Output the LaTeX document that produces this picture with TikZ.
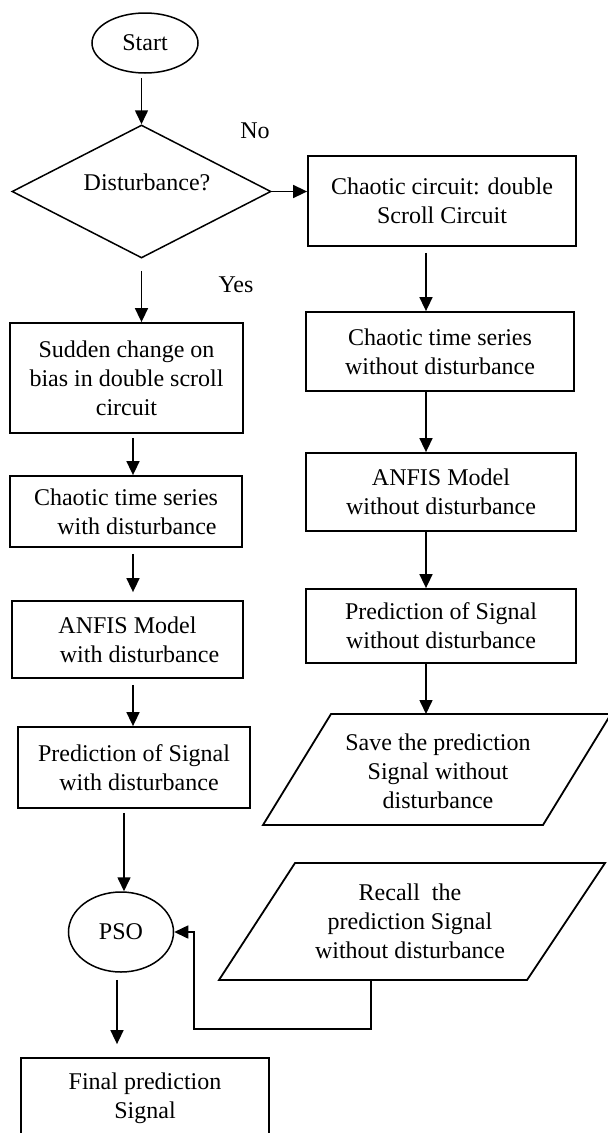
\documentclass[tikz,border=0pt]{standalone}
\usepackage{fontspec}
\setmainfont{Liberation Serif}
\usetikzlibrary{shapes.geometric,arrows.meta}
\begin{document}
\begin{tikzpicture}[x=1pt,y=-1pt,
  every node/.style={font=\fontsize{24}{29}\selectfont},
  box/.style={draw,line width=1.8pt,rectangle,align=center,inner sep=0pt},
  term/.style={draw,line width=1.5pt,ellipse,inner sep=0pt},
  dec/.style={draw,line width=1.5pt,diamond,inner sep=0pt},
  para/.style={line width=1.8pt,line join=miter},
  plain/.style={align=center,inner sep=0pt},
  arr/.style={line width=1.6pt,-{Triangle[width=13pt,length=14pt]}},
  line/.style={line width=1.6pt}]
\useasboundingbox (0,0) rectangle (608,1133);

% column x coordinates for connectors
\coordinate (rx) at (426,0);
\coordinate (lx) at (133,0);
\coordinate (px) at (124,0);
\coordinate (qx) at (117,0);

% nodes
\node[term, minimum width=106pt, minimum height=60pt] (start) at (145,43) {Start};
\node[dec, minimum width=259pt, minimum height=133pt] (dia) at (141.5,191.5) {};
\node[plain] (dtxt) at (147,182) {Disturbance?};
\node[plain] (no) at (255,131) {No};
\node[plain] (yes) at (236,285) {Yes};

\node[box, minimum width=268pt, minimum height=90pt] (b1) at (442,201)
  {Chaotic circuit: double\\Scroll Circuit};
\node[box, minimum width=268pt, minimum height=79pt] (b2) at (440,351.5)
  {Chaotic time series\\without disturbance};
\node[box, minimum width=270pt, minimum height=78pt] (b3) at (441,492)
  {ANFIS Model\\without disturbance};
\node[box, minimum width=270pt, minimum height=74pt] (b4) at (441,626)
  {Prediction of Signal\\without disturbance};

\node[box, minimum width=233pt, minimum height=110pt] (sud) at (126.5,378)
  {Sudden change on\\bias in double scroll\\circuit};
\node[box, minimum width=232pt, minimum height=71pt] (cts) at (126,511.5)
  {Chaotic time series\\\hspace*{22pt}with disturbance};
\node[box, minimum width=231pt, minimum height=77pt] (anf) at (127.5,639.5)
  {ANFIS Model\\\hspace*{24pt}with disturbance};
\node[box, minimum width=232pt, minimum height=81pt] (pw) at (134,767.5)
  {Prediction of Signal\\\hspace*{10pt}with disturbance};

% save parallelogram
\coordinate (sa) at (263,825);
\coordinate (sb) at (543,825);
\coordinate (sc) at (611,714);
\coordinate (sd) at (331,714);
\draw[para] (sa) -- (sb) -- (sc) -- (sd) -- cycle;
\node[plain] (save) at (438,771) {Save the prediction\\Signal without\\disturbance};
\coordinate (savetop) at (426,714);

% recall parallelogram
\coordinate (ra) at (219,980);
\coordinate (rb) at (527,980);
\coordinate (rc) at (605,863);
\coordinate (rd) at (295,863);
\draw[para] (ra) -- (rb) -- (rc) -- (rd) -- cycle;
\node[plain] (recall) at (410,921) {Recall\ \ the\\prediction Signal\\without disturbance};
\coordinate (rbot) at (371,980);
\coordinate (rturn) at (194,1029);

\node[term, minimum width=105pt, minimum height=80pt] (pso) at (121,932) {PSO};
\node[box, minimum width=248pt, minimum height=80pt] (fin) at (145,1098)
  {Final prediction\\Signal};

% connectors
\draw[arr, shorten <=4pt] (start.south -| dia.north) -- (dia.north);
\draw[arr] (dia.east) -- (dia.east -| b1.west);
\draw[arr, shorten <=12pt] (dia.south) -- (dia.south |- sud.north);

\draw[arr, shorten <=6pt] (b1.south -| rx) -- (b2.north -| rx);
\draw[arr] (b2.south -| rx) -- (b3.north -| rx);
\draw[arr] (b3.south -| rx) -- (b4.north -| rx);
\draw[arr] (b4.south -| rx) -- (savetop);

\draw[arr, shorten <=4pt] (sud.south -| lx) -- (cts.north -| lx);
\draw[arr, shorten <=6pt, shorten >=8pt] (cts.south -| lx) -- (anf.north -| lx);
\draw[arr, shorten <=6pt] (anf.south -| lx) -- (pw.north -| lx);
\draw[arr, shorten <=4pt] (pw.south -| px) -- (px |- pso.north);
\draw[arr, shorten <=7pt, shorten >=13pt] (qx |- pso.south) -- (fin.north -| qx);

\draw[arr] (rbot) |- (rturn) |- (pso.east);
\end{tikzpicture}
\end{document}
